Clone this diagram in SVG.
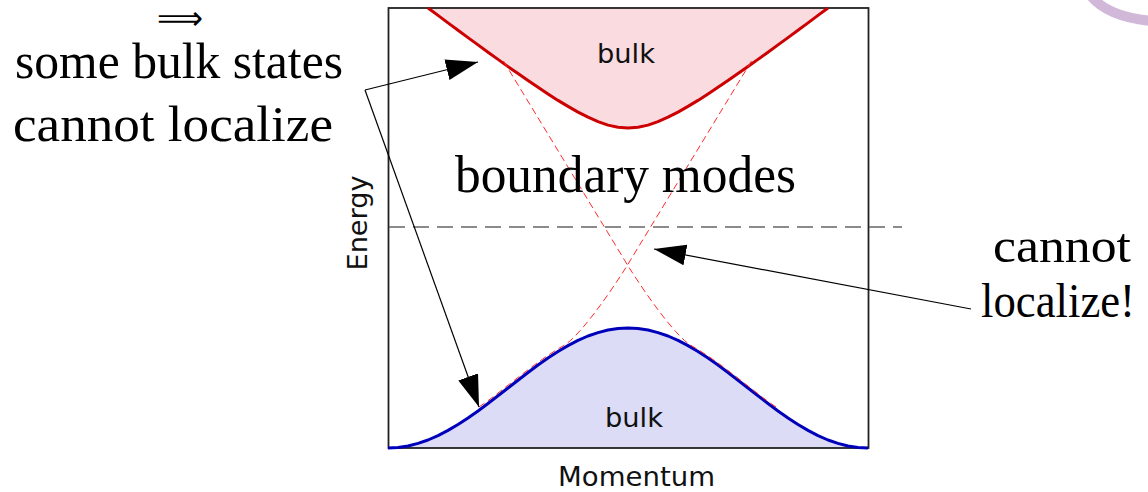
<svg xmlns="http://www.w3.org/2000/svg" width="1148" height="492" viewBox="0 0 1148 492">
<style>
.serif{font-family:"Liberation Serif","DejaVu Serif",serif;fill:#000}
.sans{font-family:"DejaVu Sans","Liberation Sans",sans-serif;fill:#111;font-size:27px}
.conn{stroke:#000;stroke-width:1.2;fill:none;marker-end:url(#ah)}
.edge{stroke:#ff2a2a;stroke-width:1;fill:none;stroke-dasharray:7,4}
.band{fill:none;stroke-width:3;stroke-linejoin:round}
</style>
<defs>
<marker id="ah" markerUnits="userSpaceOnUse" viewBox="0 0 32 21" markerWidth="32" markerHeight="21" refX="32" refY="10.5" orient="auto">
<path d="M0,0 L32,10.5 L0,21 Z" fill="#000"/>
</marker>
</defs>
<rect width="1148" height="492" fill="#fff"/>
<path d="M1091,-4 Q1108,17 1152,21" stroke="#d1b8d9" stroke-width="10" fill="none"/>

<g id="plot">
<path id="upper-fill" d="M428,8 L438,15.4 L448,22.9 L458,30.3 L468,37.6 L478,44.9 L488,52.2 L498,59.4 L508,66.6 L518,73.6 L528,80.5 L538,87.3 L548,94 L558,100.4 L568,106.4 L578,112.1 L588,117.2 L598,121.6 L608,125.1 L618,127.2 L628,128 L638,127.2 L648,125.1 L658,121.6 L668,117.2 L678,112.1 L688,106.4 L698,100.4 L708,94 L718,87.3 L728,80.5 L738,73.6 L748,66.6 L758,59.4 L768,52.2 L778,44.9 L788,37.6 L798,30.3 L808,22.9 L818,15.4 L828,8 Z" fill="#fadbe0"/>
<path id="lower-fill" d="M388,448 L398,447.5 L408,446 L418,443.4 L428,440 L438,435.6 L448,430.4 L458,424.5 L468,418 L478,411 L488,403.5 L498,395.8 L508,388 L518,380.2 L528,372.5 L538,365 L548,358 L558,351.5 L568,345.6 L578,340.4 L588,336 L598,332.6 L608,330 L618,328.5 L628,328 L638,328.5 L648,330 L658,332.6 L668,336 L678,340.4 L688,345.6 L698,351.5 L708,358 L718,365 L728,372.5 L738,380.2 L748,388 L758,395.8 L768,403.5 L778,411 L788,418 L798,424.5 L808,430.4 L818,435.6 L828,440 L838,443.4 L848,446 L858,447.5 L868,448 Z" fill="#dcdcf7"/>
<rect x="388.5" y="8" width="480" height="440" fill="none" stroke="#222" stroke-width="1.8"/>
<line x1="389" y1="227" x2="902" y2="227" stroke="#666" stroke-width="1.3" stroke-dasharray="16,8"/>
<path id="upper-band" class="band" stroke="#cc0000" d="M428,8 L438,15.4 L448,22.9 L458,30.3 L468,37.6 L478,44.9 L488,52.2 L498,59.4 L508,66.6 L518,73.6 L528,80.5 L538,87.3 L548,94 L558,100.4 L568,106.4 L578,112.1 L588,117.2 L598,121.6 L608,125.1 L618,127.2 L628,128 L638,127.2 L648,125.1 L658,121.6 L668,117.2 L678,112.1 L688,106.4 L698,100.4 L708,94 L718,87.3 L728,80.5 L738,73.6 L748,66.6 L758,59.4 L768,52.2 L778,44.9 L788,37.6 L798,30.3 L808,22.9 L818,15.4 L828,8"/>
<path id="lower-band" class="band" stroke="#0000bb" d="M388,448 L398,447.5 L408,446 L418,443.4 L428,440 L438,435.6 L448,430.4 L458,424.5 L468,418 L478,411 L488,403.5 L498,395.8 L508,388 L518,380.2 L528,372.5 L538,365 L548,358 L558,351.5 L568,345.6 L578,340.4 L588,336 L598,332.6 L608,330 L618,328.5 L628,328 L638,328.5 L648,330 L658,332.6 L668,336 L678,340.4 L688,345.6 L698,351.5 L708,358 L718,365 L728,372.5 L738,380.2 L748,388 L758,395.8 L768,403.5 L778,411 L788,418 L798,424.5 L808,430.4 L818,435.6 L828,440 L838,443.4 L848,446 L858,447.5 L868,448"/>
<path class="edge" d="M503.5,61 L627.5,265 C647.5,297 677,338 692,346 L698,349.5 L708,356 L718,363 L728,370.5 L738,378.2 L748,386 L758,393.8 L768,401.5 L776,407"/>
<path class="edge" d="M751.5,61 L627.5,265 C607.5,297 578,338 563,346 L557,349.5 L547,356 L537,363 L527,370.5 L517,378.2 L507,386 L497,393.8 L487,401.5 L479,407"/>
<text class="sans" x="626" y="63" text-anchor="middle" textLength="58" lengthAdjust="spacingAndGlyphs">bulk</text>
<text class="sans" x="634" y="427" text-anchor="middle" textLength="58" lengthAdjust="spacingAndGlyphs">bulk</text>
<text class="sans" x="636.5" y="486" text-anchor="middle" textLength="157" lengthAdjust="spacingAndGlyphs">Momentum</text>
<text class="sans" transform="translate(367,223) rotate(-90)" x="0" y="0" text-anchor="middle" textLength="95" lengthAdjust="spacingAndGlyphs">Energy</text>
</g>

<g id="label-boundary">
<text class="serif" x="625.5" y="192" font-size="52" text-anchor="middle" textLength="341" lengthAdjust="spacingAndGlyphs">boundary modes</text>
</g>
<g id="label-left">
<text x="180" y="29" font-family="DejaVu Sans, sans-serif" font-size="32" text-anchor="middle" textLength="46" lengthAdjust="spacingAndGlyphs">⟹</text>
<text class="serif" x="179" y="78" font-size="50" text-anchor="middle" textLength="328" lengthAdjust="spacingAndGlyphs">some bulk states</text>
<text class="serif" x="173" y="141" font-size="50" text-anchor="middle" textLength="320" lengthAdjust="spacingAndGlyphs">cannot localize</text>
</g>
<g id="label-right">
<text class="serif" x="1062" y="262" font-size="48" text-anchor="middle" textLength="138" lengthAdjust="spacingAndGlyphs">cannot</text>
<text class="serif" x="1058" y="317" font-size="48" text-anchor="middle" textLength="154" lengthAdjust="spacingAndGlyphs">localize!</text>
</g>

<g id="connectors">
<path class="conn" d="M365,90 L478,62"/>
<path class="conn" d="M365,90 L479,407"/>
<path class="conn" d="M971,309 L654,249"/>
</g>
</svg>
